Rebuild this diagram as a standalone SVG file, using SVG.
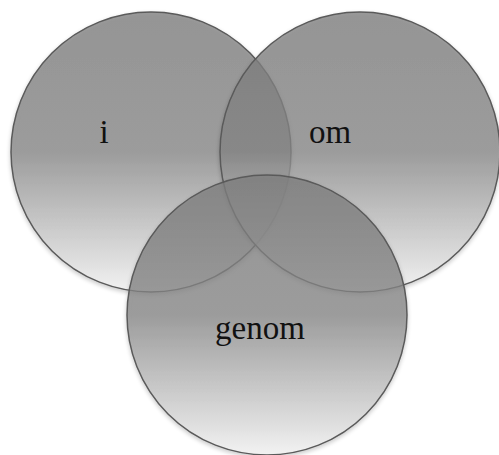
<svg xmlns="http://www.w3.org/2000/svg" width="499" height="455" viewBox="0 0 499 455">
<defs>
<linearGradient id="g" x1="0" y1="0" x2="0" y2="1">
<stop offset="0" stop-color="#7e7e7e"/>
<stop offset="0.5" stop-color="#878787"/>
<stop offset="1" stop-color="#f4f4f4"/>
</linearGradient>
<filter id="sh" x="-10%" y="-10%" width="120%" height="120%">
<feGaussianBlur in="SourceAlpha" stdDeviation="2"/>
<feOffset dy="2" result="b"/>
<feComponentTransfer><feFuncA type="linear" slope="0.25"/></feComponentTransfer>
<feMerge><feMergeNode/><feMergeNode in="SourceGraphic"/></feMerge>
</filter>
</defs>
<style>
.c{fill:url(#g);fill-opacity:0.76;stroke:#5a5a5a;stroke-width:1.5}
.t{font-family:"Liberation Serif","DejaVu Serif",serif;font-size:33px;fill:#111;text-anchor:middle}
</style>
<g id="left"><circle class="c" cx="151" cy="152" r="140" filter="url(#sh)"/><text class="t" x="104" y="143">i</text></g>
<g id="right"><circle class="c" cx="360" cy="152" r="140" filter="url(#sh)"/><text class="t" x="330" y="143">om</text></g>
<g id="bottom"><circle class="c" cx="267" cy="315" r="140" filter="url(#sh)"/><text class="t" x="260" y="339">genom</text></g>
<g id="connectors"/>
</svg>
